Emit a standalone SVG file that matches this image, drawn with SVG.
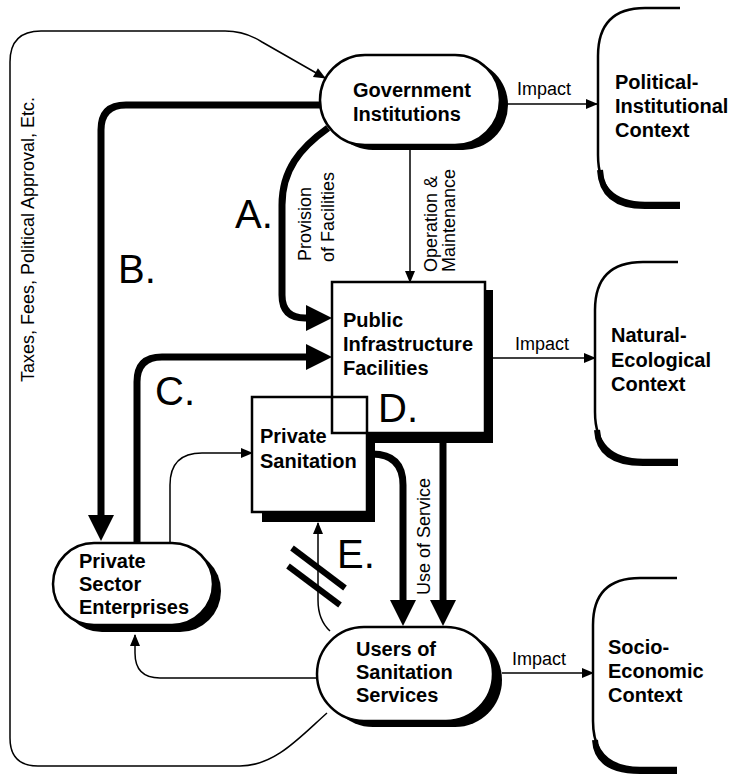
<svg xmlns="http://www.w3.org/2000/svg" width="730" height="778" viewBox="0 0 730 778">
<defs>
<style>
.node{fill:#fff;stroke:#000;stroke-width:2.5}
.open{fill:none;stroke:#000;stroke-width:2.5}
.sh{fill:#000;stroke:none}
.lbl{font-family:"Liberation Sans",Arial,sans-serif;font-weight:bold;font-size:20px;fill:#000}
.small{font-family:"Liberation Sans",Arial,sans-serif;font-size:18px;fill:#000}
.big{font-family:"Liberation Sans",Arial,sans-serif;font-size:40px;fill:#000}
.thin{fill:none;stroke:#000;stroke-width:1.5}
.thick{fill:none;stroke:#000;stroke-width:7}
.ctx{fill:none;stroke:#000;stroke-width:2.5}
.ctxsh{fill:none;stroke:#000;stroke-width:6}
.bar{stroke:#000;stroke-width:6}
</style>
<marker id="ah" markerUnits="userSpaceOnUse" markerWidth="12" markerHeight="10" refX="11" refY="5" orient="auto" overflow="visible"><path d="M0,0 L12,5 L0,10 z"/></marker>
<marker id="bigah" markerUnits="userSpaceOnUse" markerWidth="26" markerHeight="26" refX="16" refY="13" orient="auto" overflow="visible"><path d="M0,0 L26,13 L0,26 z"/></marker>
</defs>
<rect width="730" height="778" fill="#fff"/>

<g id="connectors">
<path class="thin" marker-end="url(#ah)" d="M327,713 C300,737 275,766 240,766 L38,766 Q10,766 10,738 L10,62 Q10,31 41,31 L225,31 Q245,31 262,42 L325,78"/>
<path class="thick" marker-end="url(#bigah)" d="M322,105 L126,105 Q101,105 101,130 L101,531"/>
<path class="thick" marker-end="url(#bigah)" d="M328,128 C300,148 282,170 282,205 L282,295 Q282,318 305,318 L322,318"/>
<path class="thick" marker-end="url(#bigah)" d="M137,543 L137,382 Q137,357 162,357 L322,357"/>
<path class="thin" marker-end="url(#ah)" d="M410,148 L410,282"/>
<path class="thin" marker-end="url(#ah)" d="M505,104 L597,104"/>
<path class="thin" marker-end="url(#ah)" d="M492,358 L595,358"/>
<path class="thin" marker-end="url(#ah)" d="M502,673 L593,673"/>
<path class="thin" marker-end="url(#ah)" d="M170,543 L170,485 Q170,453 202,453 L252,453"/>
<path class="thin" marker-end="url(#ah)" d="M318,678 L160,678 Q135,678 135,653 L135,635"/>
<path class="thin" marker-end="url(#ah)" d="M330,631 Q318,620 318,600 L318,523"/>
<path class="thick" marker-end="url(#bigah)" d="M372,454 Q403,454 403,485 L403,616"/>
<path class="thick" marker-end="url(#bigah)" d="M443,440 L443,616"/>
<line class="bar" x1="292" y1="548" x2="345" y2="588"/>
<line class="bar" x1="288" y1="566" x2="340" y2="605"/>
<text class="small" x="517" y="95">Impact</text>
<text class="small" x="515" y="350">Impact</text>
<text class="small" x="512" y="665">Impact</text>
<text class="small" transform="translate(34,382) rotate(-90)">Taxes, Fees, Political Approval, Etc.</text>
<text class="small" transform="translate(311,261) rotate(-90)">Provision</text>
<text class="small" transform="translate(334,262) rotate(-90)">of Facilities</text>
<text class="small" transform="translate(437,272) rotate(-90)">Operation &amp;</text>
<text class="small" transform="translate(455,272) rotate(-90)">Maintenance</text>
<text class="small" transform="translate(430,595) rotate(-90)">Use of Service</text>
<text class="big" x="235" y="228">A.</text>
<text class="big" x="118" y="283">B.</text>
<text class="big" x="155" y="405">C.</text>
<text class="big" x="337" y="568">E.</text>
</g>

<g id="gov">
<rect class="sh" x="328" y="60" width="180" height="90" rx="45"/>
<rect class="node" x="320" y="55" width="180" height="90" rx="45"/>
<text class="lbl" x="353" y="97">Government</text>
<text class="lbl" x="353" y="121">Institutions</text>
</g>

<g id="public">
<rect class="node" x="332" y="282" width="153" height="151"/>
<path class="sh" d="M485,290 L493,290 L493,443 L367,443 L367,433 L485,433 Z"/>
<text class="lbl" x="343" y="327">Public</text>
<text class="lbl" x="343" y="351">Infrastructure</text>
<text class="lbl" x="343" y="375">Facilities</text>
<text class="big" x="378" y="422">D.</text>
</g>

<g id="private-sanitation">
<rect class="open" x="252" y="397" width="115" height="115"/>
<path class="sh" d="M367,433 L375,433 L375,522 L262,522 L262,512 L367,512 Z"/>
<text class="lbl" x="260" y="443">Private</text>
<text class="lbl" x="260" y="468">Sanitation</text>
</g>

<g id="private-sector">
<rect class="sh" x="61" y="550" width="160" height="82" rx="41"/>
<rect class="node" x="53" y="543" width="160" height="82" rx="41"/>
<text class="lbl" x="79" y="568">Private</text>
<text class="lbl" x="79" y="591">Sector</text>
<text class="lbl" x="79" y="614">Enterprises</text>
</g>

<g id="users">
<rect class="sh" x="326" y="633" width="176" height="94" rx="47"/>
<rect class="node" x="317" y="627" width="176" height="94" rx="47"/>
<text class="lbl" x="356" y="656">Users of</text>
<text class="lbl" x="356" y="679">Sanitation</text>
<text class="lbl" x="356" y="702">Services</text>
</g>

<g id="ctx-political">
<path class="ctxsh" d="M600,170 Q602,206 645,206 L680,206"/>
<path class="ctx" d="M680,8 L645,8 Q598,8 598,56 L598,155 Q598,203 645,203 L680,203"/>
<text class="lbl" x="615" y="89">Political-</text>
<text class="lbl" x="615" y="113">Institutional</text>
<text class="lbl" x="615" y="137">Context</text>
</g>

<g id="ctx-natural">
<path class="ctxsh" d="M597,430 Q599,463 643,463 L678,463"/>
<path class="ctx" d="M678,262 L643,262 Q595,262 595,310 L595,412 Q595,460 643,460 L678,460"/>
<text class="lbl" x="611" y="342">Natural-</text>
<text class="lbl" x="611" y="367">Ecological</text>
<text class="lbl" x="611" y="391">Context</text>
</g>

<g id="ctx-socio">
<path class="ctxsh" d="M595,740 Q597,771 640,771 L677,771"/>
<path class="ctx" d="M677,578 L640,578 Q593,578 593,625 L593,721 Q593,768 640,768 L677,768"/>
<text class="lbl" x="608" y="654">Socio-</text>
<text class="lbl" x="608" y="678">Economic</text>
<text class="lbl" x="608" y="702">Context</text>
</g>
</svg>
